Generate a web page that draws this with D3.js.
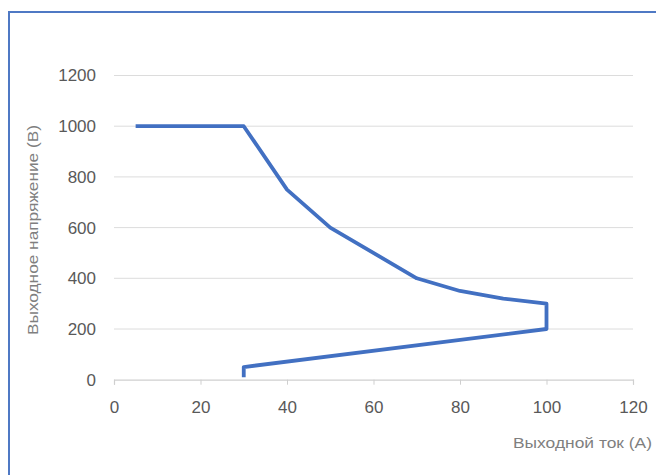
<!DOCTYPE html>
<html>
<head>
<meta charset="utf-8">
<script src="https://cdn.jsdelivr.net/npm/d3@7"></script>
<style>
  html, body { margin: 0; padding: 0; background: #ffffff; }
  svg { display: block; }
</style>
</head>
<body>
<svg id="chart" width="656" height="475"></svg>
<script>
// ---- data ----
const currentA = [5, 30, 40, 50, 70, 80, 90, 100, 100, 30, 30];
const voltageV = [1000, 1000, 750, 600, 400, 350, 320, 300, 200, 50, 10];
const xTicks = [0, 20, 40, 60, 80, 100, 120];
const yTicks = [0, 200, 400, 600, 800, 1000, 1200];
const xTitle = "Выходной ток (А)";
const yTitle = "Выходное напряжение (В)";

const svg = d3.select("#chart");
const font = "'Liberation Sans', Arial, sans-serif";

// frame
svg.append("rect")
  .attr("x", 9).attr("y", 12)
  .attr("width", 700).attr("height", 500)
  .attr("fill", "#ffffff")
  .attr("stroke", "#4f79c4").attr("stroke-width", 2);

const x = d3.scaleLinear().domain([0, 120]).range([114, 633]);
const y = d3.scaleLinear().domain([0, 1200]).range([379.7, 75.5]);

// grid
svg.append("g")
  .selectAll("line")
  .data(yTicks.filter(d => d > 0))
  .join("line")
  .attr("x1", x(0)).attr("x2", x(120))
  .attr("y1", d => y(d)).attr("y2", d => y(d))
  .attr("stroke", "#dcdcdc").attr("stroke-width", 1);

// x axis
const xAxis = svg.append("g")
  .attr("transform", `translate(0,${y(0)})`)
  .call(d3.axisBottom(x).tickValues(xTicks).tickSize(5).tickPadding(16).tickFormat(d3.format("d")));
xAxis.select(".domain").attr("stroke", "#cfcfcf").attr("stroke-width", 1.2);
xAxis.selectAll(".tick line").attr("stroke", "#cfcfcf");
xAxis.selectAll("text").attr("fill", "#595959").attr("font-size", 17).attr("font-family", font);

// y axis (labels only)
const yAxis = svg.append("g")
  .attr("transform", `translate(${x(0)},0)`)
  .call(d3.axisLeft(y).tickValues(yTicks).tickSize(0).tickPadding(18).tickFormat(d3.format("d")));
yAxis.select(".domain").remove();
yAxis.selectAll("text").attr("fill", "#595959").attr("font-size", 17).attr("font-family", font);

// line
const line = d3.line().x(d => x(d[0])).y(d => y(d[1]));
svg.append("path")
  .datum(currentA.map((c, i) => [c, voltageV[i]]))
  .attr("d", line)
  .attr("fill", "none")
  .attr("stroke", "#4270c2")
  .attr("stroke-width", 3.8)
  .attr("stroke-linejoin", "round")
  .attr("stroke-linecap", "butt");

// titles
svg.append("text")
  .attr("x", 652).attr("y", 448)
  .attr("text-anchor", "end")
  .attr("fill", "#7f7f7f").attr("font-size", 15).attr("font-family", font)
  .attr("textLength", 139).attr("lengthAdjust", "spacingAndGlyphs")
  .text(xTitle);

svg.append("text")
  .attr("transform", `translate(38,230) rotate(-90)`)
  .attr("text-anchor", "middle")
  .attr("fill", "#7f7f7f").attr("font-size", 15).attr("font-family", font)
  .attr("textLength", 210).attr("lengthAdjust", "spacingAndGlyphs")
  .text(yTitle);
</script>
</body>
</html>
